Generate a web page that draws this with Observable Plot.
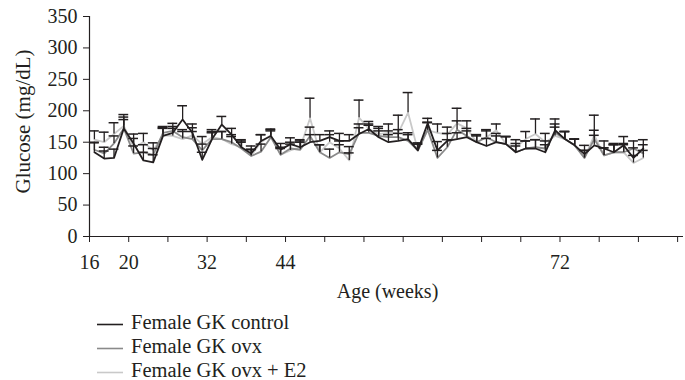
<!DOCTYPE html>
<html><head><meta charset="utf-8">
<script src="https://cdn.jsdelivr.net/npm/d3@7"></script>
<script src="https://cdn.jsdelivr.net/npm/@observablehq/plot@0.6"></script>
<style>
body{margin:0;background:#fff;}
#wrap{position:relative;width:685px;height:380px;font-family:"Liberation Serif",serif;color:#231f20;}
.row{position:absolute;left:97px;height:24px;line-height:24px;font-size:20.5px;white-space:nowrap;}
.row svg{position:absolute;left:0;top:0;}
.row span{position:absolute;left:34px;top:-2px;}
</style></head>
<body><div id="wrap"><div id="chart"></div><div id="legend"></div></div>
<script>
const seriesNames = ["Female GK control", "Female GK ovx", "Female GK ovx + E2"];
const seriesColors = ["#231f20", "#8a8a8a", "#c9c9c9"];
const tickLabels = ["16","20","","32","","44","","","","","","","72","","",""];

const control = [134,124,125,172,148,121,118,160,165,186,165,122,155,178,162,142,132,152,160,138,147,142,150,152,158,152,152,163,171,158,150,152,155,137,180,137,152,155,158,150,144,150,147,134,140,140,134,169,155,145,131,145,140,134,145,125,140];
const ovx = [138,132,148,172,132,134,130,165,168,158,155,137,155,155,150,140,128,135,158,130,140,138,160,134,125,134,131,165,165,160,158,158,152,137,170,125,142,170,160,150,158,150,147,134,140,142,140,165,155,145,125,155,129,134,134,140,132];
const ovxE2 = [154,150,163,176,142,150,137,161,160,155,161,147,158,155,147,142,129,150,161,130,137,142,188,134,150,140,121,189,171,163,165,165,197,137,169,165,162,180,172,150,158,169,147,142,155,163,150,160,155,145,125,161,129,134,134,117,125];

const controlSD = [15,12,14,18,15,13,12,12,10,22,14,12,10,13,10,12,12,10,10,10,10,10,12,10,10,12,10,10,8,10,12,12,10,12,8,14,12,10,10,12,12,14,12,14,12,14,12,18,12,10,14,16,12,14,14,16,14];
const ovxSD = [12,10,12,14,12,12,10,10,12,12,12,10,12,12,12,10,10,12,10,10,10,12,14,12,14,12,12,14,12,12,10,12,10,10,12,12,12,14,12,10,10,10,12,10,12,12,12,14,12,10,12,14,12,12,12,12,14];
const ovxE2SD = [14,16,18,18,14,14,12,12,12,12,12,12,12,12,12,10,10,12,10,12,10,12,32,12,12,12,12,28,12,12,14,28,32,10,12,14,12,24,12,12,12,10,12,12,12,24,14,14,12,10,12,32,12,12,14,12,12];

const allValues = [control, ovx, ovxE2];
const allSD = [controlSD, ovxSD, ovxE2SD];

const rows = [];
allValues.forEach((vals, s) => vals.forEach((v, i) => rows.push({i, v, sd: allSD[s][i], series: seriesNames[s]})));
const tickPos = tickLabels.map((_, k) => -0.5 + 4 * k);

const chart = Plot.plot({
  width: 685, height: 310,
  marginLeft: 89, marginRight: 2, marginTop: 16, marginBottom: 74,
  style: {fontFamily: "Liberation Serif, serif", fontSize: "20px", color: "#231f20", background: "#fff"},
  x: {domain: [-0.5, 60.1], axis: null},
  y: {domain: [0, 350], axis: null},
  color: {domain: seriesNames, range: seriesColors},
  marks: [
    Plot.axisY({ticks: d3.range(0, 351, 50), tickSize: 6, tickPadding: 6, fontSize: 20, stroke: "#231f20", label: null}),
    Plot.axisX({ticks: tickPos, tickFormat: (d, k) => tickLabels[k], tickSize: 6, tickPadding: 12, fontSize: 20, stroke: "#231f20", label: null}),
    Plot.ruleX([-0.5], {stroke: "#231f20", strokeWidth: 1.2}),
    Plot.ruleY([0], {stroke: "#231f20", strokeWidth: 1.2}),
    Plot.line(rows, {x: "i", y: "v", z: "series", stroke: "series", strokeWidth: 1.8, sort: {channel: "x"}, reverse: true}),
    Plot.ruleX(rows, {x: "i", y1: "v", y2: d => d.v + d.sd, stroke: "#231f20", strokeWidth: 1.3}),
    Plot.ruleY(rows, {y: d => d.v + d.sd, x1: d => d.i - 0.5, x2: d => d.i + 0.5, stroke: "#231f20", strokeWidth: 1.5}),
    Plot.text(["Glucose (mg/dL)"], {text: d => d, frameAnchor: "left", textAnchor: "middle", dx: -66, dy: -5, rotate: -90, fontSize: 21, fill: "#231f20"}),
    Plot.text(["Age (weeks)"], {text: d => d, frameAnchor: "bottom", dx: 1, dy: 61, fontSize: 20, fill: "#231f20"})
  ]
});
document.getElementById("chart").appendChild(chart);

const legend = document.getElementById("legend");
seriesNames.forEach((name, s) => {
  const row = document.createElement("div");
  row.className = "row";
  row.style.top = (312 + 24 * s) + "px";
  row.innerHTML = `<svg width="26" height="24"><line x1="0" x2="26" y1="12.5" y2="12.5" stroke="${seriesColors[s]}" stroke-width="1.6"/></svg><span>${name}</span>`;
  legend.appendChild(row);
});
</script></body></html>
